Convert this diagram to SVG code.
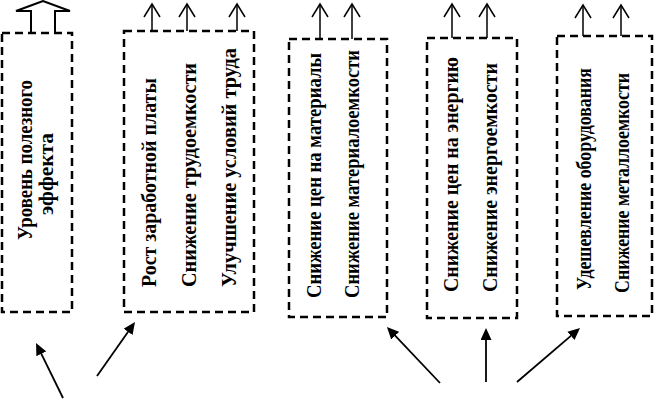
<svg xmlns="http://www.w3.org/2000/svg" width="654" height="400" viewBox="0 0 654 400">
<style>
.box{fill:none;stroke:#000;stroke-width:2.5;stroke-dasharray:8,5}
.t{font-family:"Liberation Serif","Times New Roman",serif;font-weight:bold;font-size:21px;fill:#000}
.up{stroke:#000;stroke-width:1.5;fill:none;marker-end:url(#open)}
.ar{stroke:#000;stroke-width:1.8;fill:none;marker-end:url(#solid)}
</style>
<defs>
<marker id="open" viewBox="-14 -9 16 18" refX="0" refY="0" markerWidth="16" markerHeight="18" markerUnits="userSpaceOnUse" orient="auto" overflow="visible">
<path d="M-13,-8 L0,0 L-13,8" fill="none" stroke="#000" stroke-width="1.5"/>
</marker>
<marker id="solid" viewBox="0 0 12 11" refX="8" refY="5.5" markerWidth="12" markerHeight="11" markerUnits="userSpaceOnUse" orient="auto">
<path d="M0,0 L12,5.5 L0,11 z" fill="#000"/>
</marker>
</defs>
<rect width="654" height="400" fill="#fff"/>

<g id="node1">
<rect class="box" x="2" y="33" width="70" height="279"/>
<text class="t" transform="translate(32,240) rotate(-90)" textLength="160" lengthAdjust="spacingAndGlyphs">Уровень полезного</text>
<text class="t" transform="translate(53,215) rotate(-90)" textLength="82" lengthAdjust="spacingAndGlyphs">эффекта</text>
</g>
<g id="node2">
<rect class="box" x="124" y="31" width="130" height="281"/>
<text class="t" transform="translate(156,287) rotate(-90)" textLength="209" lengthAdjust="spacingAndGlyphs">Рост заработной платы</text>
<text class="t" transform="translate(196,287) rotate(-90)" textLength="224" lengthAdjust="spacingAndGlyphs">Снижение трудоемкости</text>
<text class="t" transform="translate(236,287) rotate(-90)" textLength="239" lengthAdjust="spacingAndGlyphs">Улучшение условий труда</text>
</g>
<g id="node3">
<rect class="box" x="289" y="39" width="98" height="278"/>
<text class="t" transform="translate(321,298) rotate(-90)" textLength="245" lengthAdjust="spacingAndGlyphs">Снижение цен на материалы</text>
<text class="t" transform="translate(359,298) rotate(-90)" textLength="248" lengthAdjust="spacingAndGlyphs">Снижение материалоемкости</text>
</g>
<g id="node4">
<rect class="box" x="427" y="38" width="90" height="280"/>
<text class="t" transform="translate(458,292) rotate(-90)" textLength="235" lengthAdjust="spacingAndGlyphs">Снижение цен на энергию</text>
<text class="t" transform="translate(497,292) rotate(-90)" textLength="229" lengthAdjust="spacingAndGlyphs">Снижение энергоемкости</text>
</g>
<g id="node5">
<rect class="box" x="557" y="36" width="95" height="280"/>
<text class="t" transform="translate(591,290) rotate(-90)" textLength="222" lengthAdjust="spacingAndGlyphs">Удешевление оборудования</text>
<text class="t" transform="translate(629,293) rotate(-90)" textLength="220" lengthAdjust="spacingAndGlyphs">Снижение металлоемкости</text>
</g>

<g id="connectors">
<path d="M31,33 L31,11 L16,11 L43,1 L70,11 L55,11 L55,33" fill="none" stroke="#000" stroke-width="2"/>
<line class="up" x1="152" y1="31" x2="152" y2="4"/>
<line class="up" x1="187" y1="31" x2="187" y2="4"/>
<line class="up" x1="237" y1="31" x2="237" y2="4"/>
<line class="up" x1="320" y1="39" x2="320" y2="4"/>
<line class="up" x1="352" y1="39" x2="352" y2="4"/>
<line class="up" x1="452" y1="38" x2="452" y2="4"/>
<line class="up" x1="487" y1="38" x2="487" y2="4"/>
<line class="up" x1="583" y1="36" x2="583" y2="5"/>
<line class="up" x1="621" y1="36" x2="621" y2="5"/>
<line class="ar" x1="63" y1="398" x2="37.8" y2="346.6"/>
<line class="ar" x1="97" y1="376" x2="132.7" y2="325.3"/>
<line class="ar" x1="440" y1="383" x2="389.7" y2="329.9"/>
<line class="ar" x1="486" y1="382" x2="486" y2="332"/>
<line class="ar" x1="517" y1="382" x2="577" y2="330.6"/>
</g>
</svg>
